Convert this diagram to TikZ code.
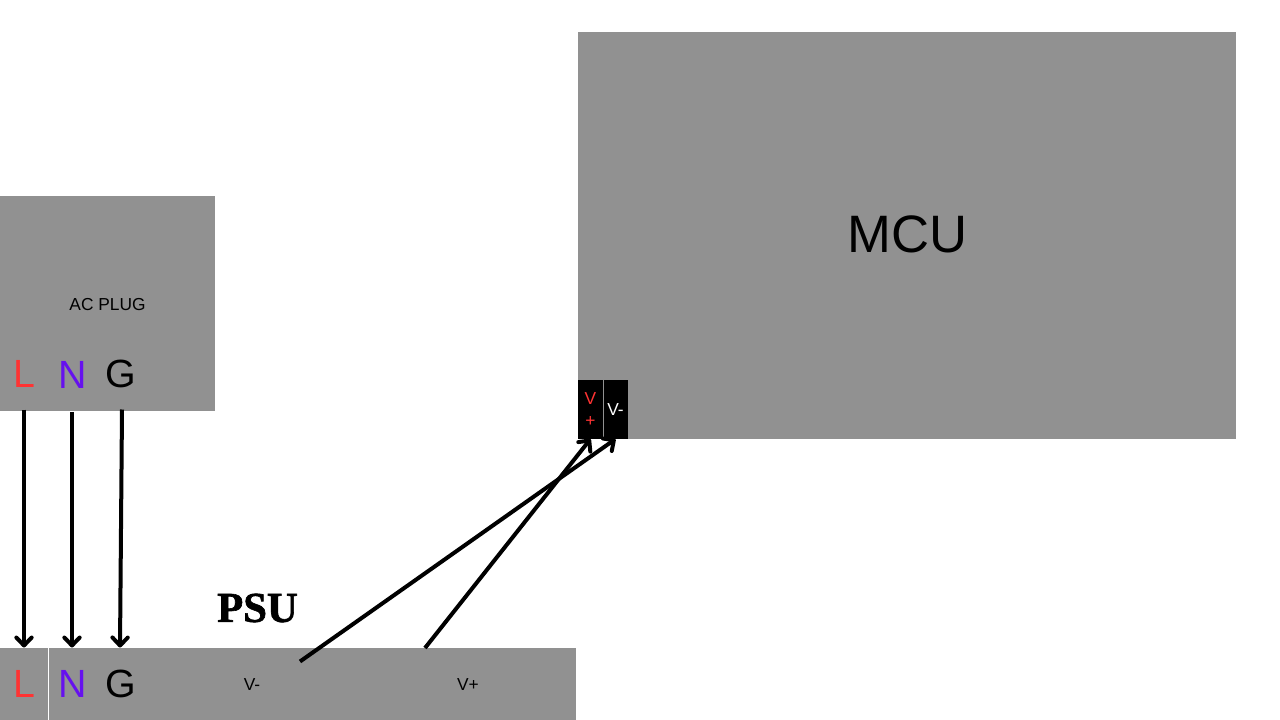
\documentclass[tikz,border=0pt]{standalone}
\usepackage{fontspec}
\setmainfont{Liberation Sans}
\newfontfamily\psufont[FakeBold=1.5]{Liberation Serif Bold}
\definecolor{boxgray}{HTML}{919191}
\definecolor{livered}{HTML}{FF3333}
\definecolor{neutral}{HTML}{6611EE}
\usetikzlibrary{arrows.meta}
\tikzset{
  panel/.style={fill=boxgray,draw=none,inner sep=0pt,outer sep=0pt,anchor=north west},
  term/.style={inner sep=0pt,outer sep=0pt,minimum width=36pt,anchor=north west,font=\fontsize{29.5}{32}\selectfont},
  pin/.style={fill=black,draw=none,inner sep=0pt,outer sep=0pt,minimum width=18.75pt,minimum height=44.25pt,anchor=north west,font=\fontsize{13}{16.5}\selectfont,align=center},
  wire/.style={draw=black,line width=3pt,-{Straight Barb[length=6pt,width=11.5pt,line width=3pt,round]}},
  small/.style={font=\fontsize{13}{15}\selectfont,inner sep=0pt},
}
\begin{document}
\begin{tikzpicture}[x=0.75pt,y=-0.75pt]
\useasboundingbox (0,0) rectangle (1280,720);
% panels
\node[panel,minimum width=161.25pt,minimum height=161.25pt] (plug) at (0,196) {};
\node[panel,minimum width=432pt,minimum height=54pt] (psu) at (0,648) {};
\node[panel,minimum width=493.5pt,minimum height=305.25pt] (mcu) at (578,31.6) {};
\draw[white,line width=0.9pt] (48.5,648) -- (48.5,720);
% titles
\node[small] (plugtitle) at (107.5,305) {AC PLUG};
\node[font=\fontsize{39.5}{42}\selectfont,inner sep=0pt] (mcutitle) at (907.2,234.5) {MCU};
\node[font=\psufont\fontsize{32}{36}\selectfont,inner sep=0pt] (psutitle) at (257.5,608) {PSU};
\node[small] (psuvm) at (252,685) {V-};
\node[small] (psuvp) at (468,685) {V+};
% plug terminals
\node[term,minimum height=54pt,text=livered] (plugL) at (0,337.5) {L};
\node[term,minimum height=54pt,text=neutral] (plugN) at (48,339.8) {\hspace*{0.8pt}\raisebox{1.5pt}{N}};
\node[term,minimum height=54pt,text=black] (plugG) at (98,337.5) {\hspace*{-2pt}G};
% psu terminals
\node[term,minimum height=54pt,text=livered] (psuL) at (0,647.5) {L};
\node[term,minimum height=54pt,text=neutral] (psuN) at (48,647.5) {\hspace*{0.8pt}N};
\node[term,minimum height=54pt,text=black] (psuG) at (96,647.5) {\hspace*{1pt}G};
% mcu pins
\node[pin,text=livered] (vplus) at (578,380) {V\\+};
\node[pin,text=white] (vminus) at (603,380) {V-};
\draw[boxgray,line width=0.5pt] (603.25,380) -- (603.25,439);
% free ends
\coordinate (vmout) at (300,661.5);
\coordinate (vpout) at (425,648);
% wires
\draw[wire] (plugL.south) -- (psuL.north);
\draw[wire] (plugN.south) -- (psuN.north);
\draw[wire] (plugG.south) -- (psuG.north);
\draw[wire] (vmout) -- (vminus.south);
\draw[wire] (vpout) -- (vplus.south);
\end{tikzpicture}
\end{document}
